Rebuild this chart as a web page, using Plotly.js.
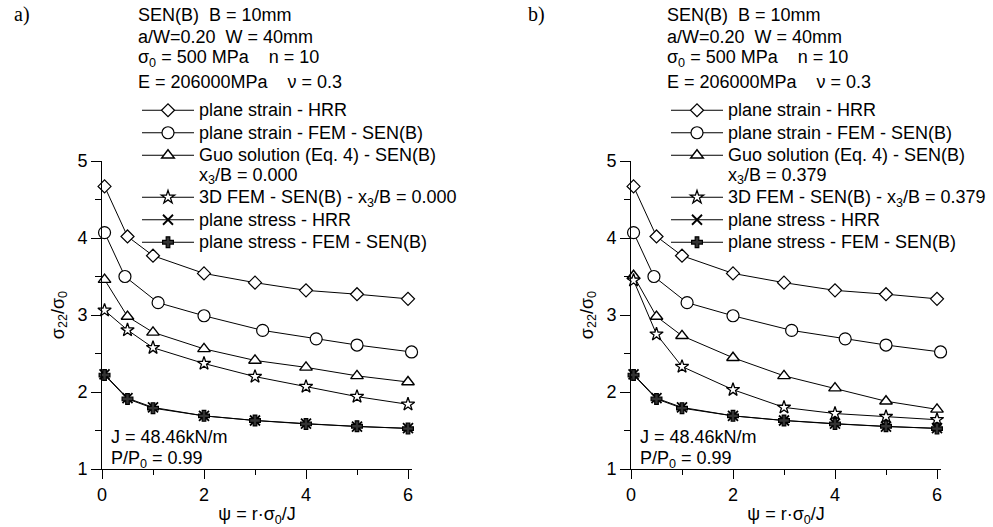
<!DOCTYPE html>
<html><head><meta charset="utf-8">
<script src="https://cdn.plot.ly/plotly-3.0.1.min.js"></script>
<style>html,body{margin:0;padding:0;background:#fff;} #chart{width:993px;height:527px;}</style>
</head><body><div id="chart"></div>
<script>
// ---- data ----
const psi = [0.05, 0.5, 1, 2, 3, 4, 5, 6];
const psiFem2D = [0.05, 0.45, 1.1, 2, 3.15, 4.2, 5.0, 6.07];

const planeStrainHRR = [4.67, 4.02, 3.77, 3.54, 3.42, 3.32, 3.27, 3.21];
const planeStrainFEM = [4.07, 3.50, 3.16, 2.99, 2.80, 2.69, 2.61, 2.52];
const planeStressHRR = [2.23, 1.92, 1.80, 1.69, 1.63, 1.59, 1.55, 1.53];
const planeStressFEM = [2.22, 1.91, 1.79, 1.69, 1.63, 1.585, 1.555, 1.525];

const guoA = [3.46, 2.98, 2.775, 2.56, 2.41, 2.32, 2.21, 2.13];
const fem3DA = [3.06, 2.805, 2.575, 2.37, 2.20, 2.07, 1.94, 1.84];
const guoB = [3.51, 2.98, 2.73, 2.445, 2.21, 2.05, 1.88, 1.775];
const fem3DB = [3.45, 2.75, 2.33, 2.03, 1.80, 1.72, 1.68, 1.64];

const x3B_A = "0.000";
const x3B_B = "0.379";

const headerLines = ["SEN(B)  B = 10mm", "a/W=0.20  W = 40mm",
  "σ<sub>0</sub> = 500 MPa\u00a0\u00a0\u00a0 n = 10", "E = 206000MPa\u00a0\u00a0\u00a0 ν = 0.3"];
const infoLines = ["J = 48.46kN/m", "P/P<sub>0</sub> = 0.99"];
const panelLabels = ["a)", "b)"];
const xTitle = "ψ = r·σ<sub>0</sub>/J";
const yTitle = "σ<sub>22</sub>/σ<sub>0</sub>";

function names(x3) {
  return ["plane strain - HRR",
          "plane strain - FEM - SEN(B)",
          ["Guo solution (Eq. 4) - SEN(B)", "x<sub>3</sub>/B = " + x3],
          "3D FEM - SEN(B) - x<sub>3</sub>/B = " + x3,
          "plane stress - HRR",
          "plane stress - FEM - SEN(B)"];
}
const big = t => Array.isArray(t) ? t.map(s => '<span style="font-size:18px">' + s + '</span>').join('<br>')
                                  : '<span style="font-size:18px">' + t + '</span>';

const W = 993, H = 527;
const px = v => v / W, py = v => 1 - v / H;

const markers = [
  {symbol: 'diamond', size: 10, color: 'white', line: {color: 'black', width: 1.2}},
  {symbol: 'circle', size: 12, color: 'white', line: {color: 'black', width: 1.2}},
  {symbol: 'triangle-up', size: 11, color: 'white', line: {color: 'black', width: 1.4}},
  {symbol: 'star', size: 10, color: 'white', line: {color: 'black', width: 1.3}},
  {symbol: 'x-thin', size: 10, color: 'black', line: {color: 'black', width: 1.8}},
  {symbol: 'cross', size: 9, color: '#333', line: {color: 'black', width: 1.2}}
];

function panel(ax, legendId, guo, fem3d, x3) {
  const nm = names(x3);
  const ys = [planeStrainHRR, planeStrainFEM, guo, fem3d, planeStressHRR, planeStressFEM];
  const xs = [psi, psiFem2D, psi, psi, psi, psi];
  return ys.map((y, i) => ({
    type: 'scatter', mode: 'lines+markers', x: xs[i], y: y,
    xaxis: 'x' + ax, yaxis: 'y' + ax, legend: legendId,
    name: big(nm[i]), cliponaxis: false,
    line: {color: 'black', width: 1},
    marker: markers[i]
  }));
}

const data = panel('', 'legend', guoA, fem3DA, x3B_A).concat(panel('2', 'legend2', guoB, fem3DB, x3B_B));

const font = {family: 'Liberation Sans, Arial, sans-serif', size: 18, color: 'black'};
const yDom = [py(469), py(161)];
const xMax = 6.08, unit = 51;

function xaxis(l, anchor) {
  return {domain: [px(l), px(l + unit * xMax)], anchor: anchor, range: [0, xMax], dtick: 2, tick0: 0,
    ticks: 'outside', ticklen: 9, tickwidth: 1, tickcolor: 'black',
    showline: true, linecolor: 'black', linewidth: 1, showgrid: false, zeroline: false,
    minor: {dtick: 1, ticks: 'outside', ticklen: 5, tickcolor: 'black', showgrid: false},
    tickfont: font, title: {text: xTitle, font: font, standoff: 6}, automargin: false};
}
function yaxis(anchor) {
  return {domain: yDom, anchor: anchor, range: [1, 5], dtick: 1, tick0: 1,
    ticks: 'outside', ticklen: 10, tickwidth: 1, tickcolor: 'black',
    showline: true, linecolor: 'black', linewidth: 1, showgrid: false, zeroline: false,
    minor: {dtick: 0.5, ticks: 'outside', ticklen: 6, tickcolor: 'black', showgrid: false},
    tickfont: font, title: {text: yTitle, font: font, standoff: 8}, automargin: false};
}

const annotations = [];
const offsets = [0, 529];
const headerY = [15, 37, 59, 82];
offsets.forEach((o, k) => {
  headerLines.forEach((t, i) => annotations.push({xref: 'paper', yref: 'paper', x: px(136 + o), y: py(headerY[i]),
    xanchor: 'left', yanchor: 'middle', showarrow: false, text: t, font: font}));
  infoLines.forEach((t, i) => annotations.push({xref: 'paper', yref: 'paper', x: px(109 + o), y: py([437, 459][i]),
    xanchor: 'left', yanchor: 'middle', showarrow: false, text: t, font: font}));
});
annotations.push({xref: 'paper', yref: 'paper', x: px(12), y: py(15), xanchor: 'left', yanchor: 'middle',
  showarrow: false, text: panelLabels[0], font: {family: 'Liberation Serif, Times New Roman, serif', size: 20, color: 'black'}});
annotations.push({xref: 'paper', yref: 'paper', x: px(526), y: py(15), xanchor: 'left', yanchor: 'middle',
  showarrow: false, text: panelLabels[1], font: {family: 'Liberation Serif, Times New Roman, serif', size: 20, color: 'black'}});

const legendBase = {bgcolor: 'rgba(0,0,0,0)', borderwidth: 0, font: {family: font.family, size: 15, color: 'black'},
  xanchor: 'left', yanchor: 'top', yref: 'paper', xref: 'paper', itemwidth: 52, valign: 'top', tracegroupgap: 0,
  itemclick: false};

const layout = {
  width: W, height: H, margin: {l: 0, r: 0, t: 0, b: 0},
  paper_bgcolor: 'white', plot_bgcolor: 'rgba(0,0,0,0)', font: font,
  showlegend: true,
  xaxis: xaxis(102, 'y'), yaxis: yaxis('x'),
  xaxis2: xaxis(631, 'y2'), yaxis2: yaxis('x2'),
  legend: Object.assign({}, legendBase, {x: px(137), y: py(94)}),
  legend2: Object.assign({}, legendBase, {x: px(137 + 529), y: py(94)}),
  annotations: annotations
};

Plotly.newPlot('chart', data, layout, {staticPlot: true, displayModeBar: false});
</script>
</body></html>
